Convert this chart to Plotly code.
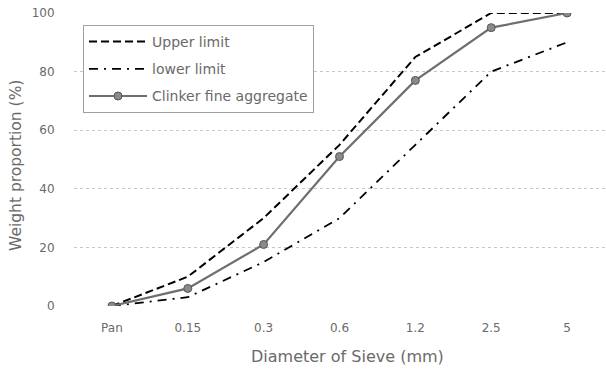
import plotly.graph_objects as go

categories = ["Pan", "0.15", "0.3", "0.6", "1.2", "2.5", "5"]
upper_limit = [0, 10, 30, 55, 85, 100, 100]
lower_limit = [0, 3, 15, 30, 55, 80, 90]
clinker = [0, 6, 21, 51, 77, 95, 100]
y_ticks = [0, 20, 40, 60, 80, 100]

FONT = "DejaVu Sans"
GRAY = "#6a6a6a"

W, H = 606, 372
L, R, T, B = 74, 1, 13, 66

fig = go.Figure()
fig.add_trace(go.Scatter(x=categories, y=upper_limit, mode="lines", name="Upper limit",
                         line=dict(color="black", width=2, dash="8px,4px"), legendgroup="a"))
fig.add_trace(go.Scatter(x=categories, y=lower_limit, mode="lines", name="lower limit",
                         line=dict(color="black", width=1.8, dash="9px,6px,2px,6px"), legendgroup="b"))
fig.add_trace(go.Scatter(x=categories, y=clinker, mode="lines+markers", name="Clinker fine aggregate",
                         line=dict(color="#6e6e6e", width=2.2),
                         marker=dict(symbol="circle", size=8, color="#8a8a8a",
                                     line=dict(color="#555555", width=1)),
                         legendgroup="c"))

pw, ph = W - L - R, H - T - B

fig.update_layout(
    width=W, height=H,
    margin=dict(l=L, r=R, t=T, b=B),
    paper_bgcolor="white", plot_bgcolor="white",
    font=dict(family=FONT, size=12, color=GRAY),
    showlegend=True,
    legend=dict(x=(83 - L) / pw, y=(H - B - 25) / ph, xanchor="left", yanchor="top",
                bordercolor="#a0a0a0", borderwidth=1, bgcolor="white",
                font=dict(family=FONT, size=14, color=GRAY),
                tracegroupgap=6, itemwidth=58),
    xaxis=dict(type="category", categoryorder="array", categoryarray=categories,
               showgrid=False, zeroline=False, showline=False,
               ticks="outside", ticklen=11, tickcolor="rgba(0,0,0,0)",
               tickfont=dict(family=FONT, size=12, color=GRAY),
               range=[-0.5, 6.5]),
    yaxis=dict(range=[0, 100], tickvals=y_ticks, showgrid=True,
               gridcolor="#c8c8c8", griddash="dot", gridwidth=1,
               zeroline=False, showline=False,
               ticks="outside", ticklen=16, tickcolor="rgba(0,0,0,0)",
               tickfont=dict(family=FONT, size=12, color=GRAY)),
    annotations=[
        dict(text="Diameter of Sieve (mm)", x=(347 - L) / pw, y=(H - B - 356) / ph,
             xref="paper", yref="paper", xanchor="center", yanchor="middle",
             showarrow=False, font=dict(family=FONT, size=16, color=GRAY)),
        dict(text="Weight proportion (%)", x=(16 - L) / pw, y=(H - B - 166) / ph,
             xref="paper", yref="paper", xanchor="center", yanchor="middle",
             showarrow=False, textangle=-90,
             font=dict(family=FONT, size=15.5, color=GRAY)),
    ],
)

fig.write_html("out.html", config={"displayModeBar": False},
               post_script="document.body.style.margin='0px';")
